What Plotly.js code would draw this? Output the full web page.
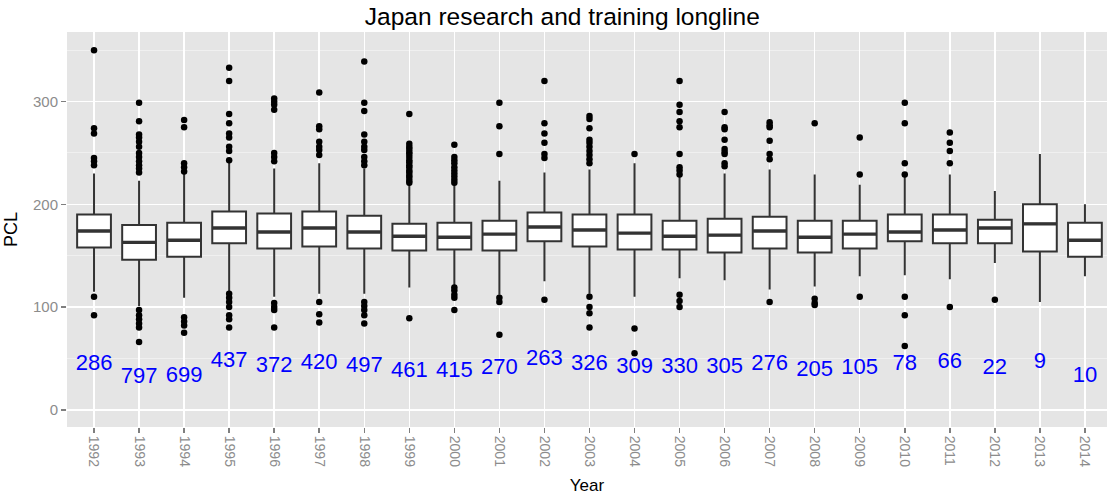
<!DOCTYPE html>
<html>
<head>
<meta charset="utf-8">
<script src="https://cdn.plot.ly/plotly-3.0.1.min.js"></script>
<style>html,body{margin:0;padding:0;background:#fff;}#chart{width:1107px;height:501px;}</style>
</head>
<body>
<div id="chart"></div>
<script>
const years = ['1992','1993','1994','1995','1996','1997','1998','1999','2000','2001','2002','2003','2004','2005','2006','2007','2008','2009','2010','2011','2012','2013','2014'];
const q1     = [158, 146, 149, 162, 157, 159, 157, 155, 156, 155, 164, 159, 156, 156, 153, 157, 153, 157, 164, 162, 162, 154, 149];
const median = [174, 163, 165, 177, 173, 177, 173, 169, 168, 171, 178, 175, 172, 169, 170, 174, 168, 171, 173, 175, 177, 181, 165];
const q3     = [190, 180, 182, 193, 191, 193, 189, 181, 182, 184, 192, 190, 190, 184, 186, 188, 184, 184, 190, 190, 185, 200, 182];
const lowerWhisker = [115, 101, 109, 115, 110, 113, 113, 119, 120, 112, 125, 113, 110, 128, 126, 117, 120, 130, 131, 127, 143, 105, 130];
const upperWhisker = [230, 223, 230, 241, 235, 240, 235, 219, 219, 223, 231, 234, 240, 227, 230, 234, 229, 219, 227, 229, 213, 249, 200];
const outliers = [
  [350, 274, 269, 245, 242, 238, 110, 92],
  [299, 281, 268, 265, 261, 256, 250, 246, 242, 238, 235, 231, 97, 92, 88, 84, 80, 66],
  [282, 275, 240, 236, 232, 90, 86, 82, 75],
  [333, 320, 288, 279, 269, 265, 256, 252, 243, 113, 109, 105, 100, 92, 88, 80],
  [303, 300, 297, 292, 250, 246, 242, 104, 100, 97, 80],
  [309, 276, 273, 261, 256, 253, 248, 105, 93, 85],
  [339, 299, 291, 268, 261, 256, 253, 246, 242, 238, 105, 101, 97, 92, 84],
  [288, 259, 256, 254, 251, 249, 246, 243, 241, 238, 236, 233, 231, 228, 226, 223, 221, 89],
  [258, 246, 243, 240, 236, 233, 230, 227, 224, 221, 119, 116, 112, 109, 97],
  [299, 276, 249, 109, 105, 73],
  [320, 279, 269, 260, 249, 245, 107],
  [286, 283, 274, 263, 260, 256, 252, 248, 244, 240, 110, 100, 94, 80],
  [249, 79, 55],
  [320, 297, 290, 281, 275, 249, 236, 233, 229, 112, 106, 100],
  [290, 275, 273, 263, 254, 251, 249, 240, 237],
  [280, 277, 275, 262, 249, 244, 105],
  [279, 108, 104, 102],
  [265, 229, 110],
  [299, 279, 240, 229, 110, 92, 62],
  [270, 260, 252, 240, 100],
  [107],
  [],
  []
];
const counts = [286, 797, 699, 437, 372, 420, 497, 461, 415, 270, 263, 326, 309, 330, 305, 276, 205, 105, 78, 66, 22, 9, 10];
const countLabelY = [44, 31, 32, 47, 42, 45, 42, 37, 37, 40, 49, 44, 41, 41, 41, 44, 38, 40, 44, 46, 40, 46, 32];

const outX = [], outY = [];
outliers.forEach((arr, i) => arr.forEach(v => { outX.push(years[i]); outY.push(v); }));

const FONT = '"Liberation Sans", Arial, sans-serif';

const traces = [
  {
    type: 'box',
    x: years,
    q1: q1, median: median, q3: q3,
    lowerfence: lowerWhisker, upperfence: upperWhisker,
    boxpoints: false,
    width: 0.75,
    fillcolor: '#ffffff',
    line: {color: '#333333', width: 2},
    whiskerwidth: 0,
    hoverinfo: 'skip',
    showlegend: false
  },
  {
    // thicker median bar, as in ggplot
    type: 'box',
    x: years,
    q1: median, median: median, q3: median,
    lowerfence: median, upperfence: median,
    boxpoints: false,
    width: 0.73,
    fillcolor: 'rgba(0,0,0,0)',
    line: {color: '#333333', width: 3.4},
    whiskerwidth: 0,
    hoverinfo: 'skip',
    showlegend: false
  },
  {
    type: 'scatter', mode: 'markers',
    x: outX, y: outY,
    marker: {color: '#000000', size: 6.5},
    hoverinfo: 'skip', showlegend: false
  },
  {
    type: 'scatter', mode: 'text',
    x: years, y: countLabelY,
    text: counts.map(String),
    textposition: 'middle center',
    textfont: {family: FONT, size: 22, color: '#0000ff'},
    cliponaxis: false,
    hoverinfo: 'skip', showlegend: false
  }
];

const layout = {
  width: 1107, height: 501,
  margin: {l: 67, r: 0, t: 32, b: 74},
  paper_bgcolor: '#ffffff',
  plot_bgcolor: '#e5e5e5',
  font: {family: FONT},
  boxmode: 'overlay',
  title: {
    text: 'Japan research and training longline',
    font: {family: FONT, size: 24.5, color: '#000000'},
    x: 0.508, xref: 'container', xanchor: 'center',
    y: 0.968, yref: 'container', yanchor: 'middle'
  },
  xaxis: {
    type: 'category',
    categoryorder: 'array', categoryarray: years,
    range: [-0.6, 22.49],
    showgrid: true, gridcolor: '#ffffff', gridwidth: 1.5,
    zeroline: false, showline: false,
    ticks: 'outside', ticklen: 5, tickwidth: 1.5, tickcolor: '#7f7f7f',
    tickangle: 90,
    tickfont: {family: FONT, size: 14, color: '#8c8c8c'},
    title: {text: 'Year', font: {family: FONT, size: 17, color: '#000000'}, standoff: 12}
  },
  yaxis: {
    range: [-16.8, 367.8],
    tickvals: [0, 100, 200, 300],
    showgrid: true, gridcolor: '#ffffff', gridwidth: 1.5,
    minor: {dtick: 50, tick0: 0, showgrid: true, gridcolor: '#f2f2f2', gridwidth: 0.8, ticks: ''},
    zeroline: false, showline: false,
    ticks: 'outside', ticklen: 5, tickwidth: 1.5, tickcolor: '#7f7f7f',
    tickfont: {family: FONT, size: 15, color: '#8c8c8c'},
    title: {text: 'PCL', font: {family: FONT, size: 18, color: '#000000'}, standoff: 10}
  }
};

Plotly.newPlot('chart', traces, layout, {displayModeBar: false, staticPlot: true});
</script>
</body>
</html>
